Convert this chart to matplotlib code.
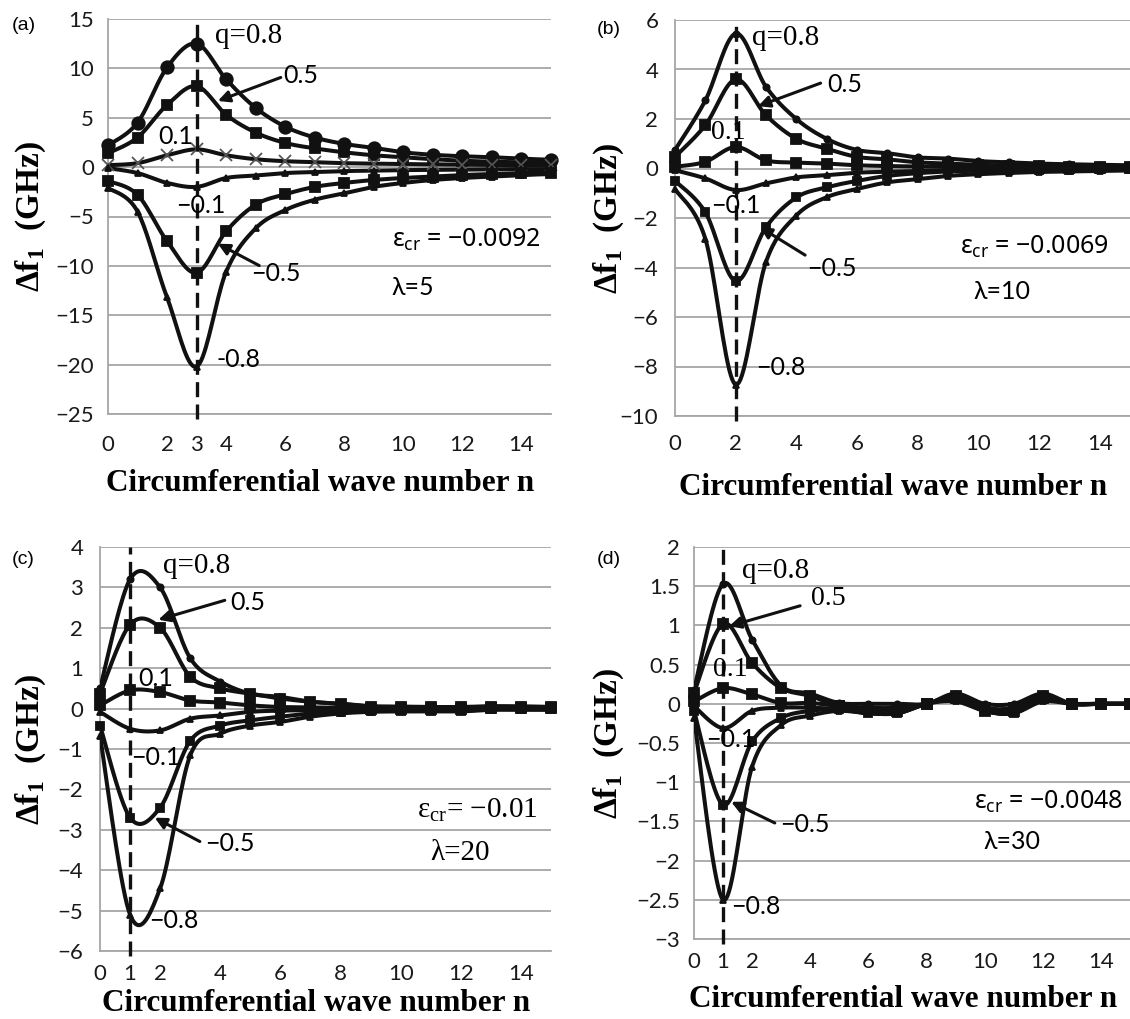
import numpy as np
import matplotlib
matplotlib.use("Agg")
import matplotlib.pyplot as plt
from matplotlib.ticker import FixedLocator, FuncFormatter

plt.rcParams['font.family'] = ['Lato', 'Noto Sans', 'DejaVu Sans']
plt.rcParams['mathtext.fontset'] = 'custom'
plt.rcParams['mathtext.rm'] = 'Liberation Serif'
plt.rcParams['mathtext.bf'] = 'Liberation Serif:bold'
plt.rcParams['mathtext.sf'] = 'Noto Sans'

# circumferential wave number
n = list(range(16))

# (a) lambda = 5
a_q08 = [2.2, 4.5, 10.1, 12.5, 8.9, 6.0, 4.1, 3.0, 2.35, 1.95, 1.5, 1.25, 1.1, 1.0, 0.85, 0.75]
a_q05 = [1.4, 3.0, 6.3, 8.2, 5.3, 3.5, 2.45, 1.9, 1.5, 1.2, 1.0, 0.8, 0.65, 0.55, 0.5, 0.4]
a_q01 = [0.2, 0.4, 1.2, 1.8, 1.2, 0.8, 0.6, 0.5, 0.4, 0.35, 0.3, 0.28, 0.25, 0.22, 0.2, 0.2]
a_qm01 = [-0.1, -0.6, -1.6, -2.0, -1.1, -0.85, -0.6, -0.5, -0.4, -0.35, -0.3, -0.28, -0.25, -0.22, -0.2, -0.2]
a_qm05 = [-1.4, -2.8, -7.5, -10.7, -6.5, -3.8, -2.75, -2.0, -1.6, -1.3, -1.1, -0.95, -0.8, -0.7, -0.6, -0.55]
a_qm08 = [-2.1, -4.5, -13.2, -20.2, -10.6, -6.2, -4.35, -3.3, -2.65, -2.0, -1.6, -1.3, -1.1, -0.95, -0.8, -0.7]

# (b) lambda = 10
b_q08 = [0.75, 2.75, 5.45, 3.3, 2.0, 1.2, 0.75, 0.62, 0.45, 0.4, 0.3, 0.25, 0.2, 0.17, 0.15, 0.13]
b_q05 = [0.47, 1.75, 3.6, 2.15, 1.2, 0.8, 0.47, 0.37, 0.25, 0.2, 0.15, 0.12, 0.1, 0.08, 0.07, 0.06]
b_q01 = [0.07, 0.27, 0.87, 0.33, 0.24, 0.2, 0.13, 0.1, 0.08, 0.06, 0.05, 0.04, 0.04, 0.03, 0.03, 0.03]
b_qm01 = [-0.07, -0.4, -0.87, -0.6, -0.36, -0.27, -0.17, -0.13, -0.1, -0.08, -0.06, -0.05, -0.04, -0.04, -0.03, -0.03]
b_qm05 = [-0.5, -1.77, -4.55, -2.37, -1.17, -0.76, -0.5, -0.3, -0.19, -0.12, -0.09, -0.07, -0.06, -0.05, -0.04, -0.04]
b_qm08 = [-0.83, -2.84, -8.73, -3.77, -1.9, -1.16, -0.83, -0.56, -0.43, -0.3, -0.23, -0.18, -0.14, -0.12, -0.1, -0.08]

# (c) lambda = 20
c_q08 = [0.5, 3.2, 3.0, 1.25, 0.67, 0.37, 0.29, 0.17, 0.12, 0.06, 0.05, 0.04, 0.04, 0.06, 0.05, 0.04]
c_q05 = [0.37, 2.08, 2.0, 0.79, 0.5, 0.37, 0.25, 0.17, 0.12, 0.05, 0.04, 0.04, 0.03, 0.05, 0.05, 0.04]
c_q01 = [0.08, 0.45, 0.41, 0.2, 0.15, 0.08, 0.04, 0.03, 0.02, 0.0, 0.0, 0.0, 0.0, 0.02, 0.02, 0.02]
c_qm01 = [-0.08, -0.5, -0.54, -0.25, -0.17, -0.08, -0.05, -0.04, -0.03, -0.02, -0.02, -0.02, -0.02, 0.0, 0.0, 0.0]
c_qm05 = [-0.42, -2.7, -2.45, -0.8, -0.42, -0.29, -0.2, -0.12, -0.08, -0.05, -0.05, -0.05, -0.05, -0.02, -0.02, -0.02]
c_qm08 = [-0.67, -5.1, -4.45, -1.16, -0.62, -0.42, -0.33, -0.2, -0.12, -0.08, -0.07, -0.07, -0.07, -0.03, -0.03, -0.03]

# (d) lambda = 30
d_q08 = [0.18, 1.53, 0.82, 0.23, 0.13, 0.01, 0.0, 0.0, 0.0, 0.13, 0.0, 0.0, 0.13, 0.0, 0.0, 0.0]
d_q05 = [0.14, 1.02, 0.52, 0.2, 0.1, -0.03, -0.05, -0.05, 0.0, 0.1, -0.05, -0.05, 0.1, 0.0, 0.0, 0.0]
d_q01 = [0.03, 0.2, 0.12, 0.01, 0.01, -0.03, -0.07, -0.09, 0.0, 0.08, -0.09, -0.09, 0.08, 0.0, 0.0, 0.0]
d_qm01 = [-0.03, -0.31, -0.09, -0.05, -0.05, -0.07, -0.12, -0.12, 0.0, 0.03, -0.09, -0.12, 0.03, 0.0, 0.0, 0.0]
d_qm05 = [-0.09, -1.29, -0.48, -0.18, -0.09, -0.07, -0.12, -0.12, 0.0, 0.06, -0.09, -0.12, 0.06, 0.0, 0.0, 0.0]
d_qm08 = [-0.18, -2.5, -0.8, -0.27, -0.15, -0.09, -0.12, -0.12, 0.0, 0.06, -0.09, -0.12, 0.06, 0.0, 0.0, 0.0]

W, H = 1130, 1019
fig = plt.figure(figsize=(W / 100, H / 100), dpi=100)

SERIF = 'Liberation Serif'
SANS = ['Lato', 'Noto Sans', 'DejaVu Sans']


def rect(l, r, t, b):
    return [l / W, 1 - b / H, (r - l) / W, (b - t) / H]


def smooth(x, y, k=20):
    # Excel-like smoothed line (Catmull-Rom as cubic Bezier)
    p = np.column_stack([x, y]).astype(float)
    p = np.vstack([p[0], p, p[-1]])
    out = []
    t = np.linspace(0, 1, k)[:, None]
    for i in range(1, len(p) - 2):
        p0, p1, p2, p3 = p[i - 1], p[i], p[i + 1], p[i + 2]
        c1 = p1 + (p2 - p0) / 6
        c2 = p2 - (p3 - p1) / 6
        seg = (1 - t) ** 3 * p1 + 3 * (1 - t) ** 2 * t * c1 + 3 * (1 - t) * t ** 2 * c2 + t ** 3 * p2
        out.append(seg if i == 1 else seg[1:])
    s = np.vstack(out)
    return s[:, 0], s[:, 1]


def fmt(v, pos):
    return f"{v:g}".replace('-', '\u2212')


def panel(box, series, markers, yticks, xticks, vline, xpad, ypad):
    ax = fig.add_axes(rect(*box))
    ax.set_xlim(0, 15)
    ax.set_ylim(yticks[0], yticks[-1])
    for ys, (m, ms, mc) in zip(series, markers):
        sx, sy = smooth(n, ys)
        ax.plot(sx, sy, color='#111111', lw=2.9, zorder=3, solid_capstyle='round')
        ax.plot(n, ys, ls='none', marker=m, ms=ms, color=mc, mec=mc, mew=1.3,
                zorder=4, clip_on=False)
    ax.yaxis.set_major_locator(FixedLocator(yticks))
    ax.xaxis.set_major_locator(FixedLocator(xticks))
    ax.yaxis.set_major_formatter(FuncFormatter(fmt))
    ax.xaxis.set_major_formatter(FuncFormatter(fmt))
    ax.grid(axis='y', color='#a6a6a6', lw=1.3, zorder=0)
    ax.set_axisbelow(True)
    for s in ('top', 'right'):
        ax.spines[s].set_visible(False)
    for s in ('left', 'bottom'):
        ax.spines[s].set_color('#a6a6a6')
        ax.spines[s].set_linewidth(1.3)
    ax.tick_params(axis='both', length=0, labelsize=16, colors='#1a1a1a')
    ax.tick_params(axis='x', pad=xpad)
    ax.tick_params(axis='y', pad=ypad)
    ax.axvline(vline, ymin=-0.012, ymax=1.0, color='#111111', lw=2.4,
               ls=(0, (4.5, 2.2)), zorder=5, clip_on=False)
    return ax


def arrow(ax, tail, head):
    ax.annotate('', xy=head, xytext=tail,
                arrowprops=dict(arrowstyle='-|>', color='#111111', lw=2.2,
                                mutation_scale=17, shrinkA=0, shrinkB=0), zorder=6)


def labels(ax, box, ylab_x, xlab_base):
    l, r, t, b = box
    fig.text(ylab_x / W, 1 - (t + b) / 2 / H, 'Δf$_\\mathbf{1}$  (GHz)', rotation=90,
             ha='center', va='center', family=SERIF, weight='bold', fontsize=24)
    fig.text((l + r) / 2 / W - 0.008, 1 - xlab_base / H, 'Circumferential wave number n',
             ha='center', va='baseline', family=SERIF, weight='bold', fontsize=22.5)


big = [('o', 9, '#111111'), ('s', 7.5, '#111111'), ('x', 8, '#555555'),
       ('^', 5, '#111111'), ('s', 6.5, '#111111'), ('^', 4, '#111111')]
small = [('o', 4.5, '#111111'), ('s', 6.5, '#111111'), ('s', 6.5, '#111111'),
         ('^', 4, '#111111'), ('s', 5.5, '#111111'), ('^', 4, '#111111')]

NUM = 18     # numeric annotation size
QS = 21      # q=0.8 label size

# ---- (a)
box_a = (108, 551, 19, 414)
ax = panel(box_a, [a_q08, a_q05, a_q01, a_qm01, a_qm05, a_qm08], big,
           [-25, -20, -15, -10, -5, 0, 5, 10, 15], [0, 2, 3, 4, 6, 8, 10, 12, 14], 3, 15, 10)
ax.text(3.62, 13.3, 'q=0.8', family=SERIF, fontsize=QS, va='center')
ax.text(5.95, 9.25, '0.5', family=SANS, fontsize=NUM, va='center')
arrow(ax, (5.85, 9.08), (3.72, 6.7))
ax.text(1.7, 3.13, '0.1', family=SANS, fontsize=NUM, va='center', zorder=7)
ax.text(2.3, -3.84, '\u22120.1', family=SANS, fontsize=NUM, va='center', zorder=7)
ax.text(4.85, -10.8, '\u22120.5', family=SANS, fontsize=NUM, va='center')
arrow(ax, (5.12, -9.97), (3.72, -7.76))
ax.text(3.66, -19.5, '-0.8', family=SANS, fontsize=NUM, va='center')
ax.text(9.6, -7.4, 'ε$_\\mathsf{cr}$ = \u22120.0092', family='Noto Sans', fontsize=18, va='center')
ax.text(9.6, -12.2, 'λ=5', family=SANS, fontsize=18, va='center')
fig.text(12 / W, 1 - 25 / H, '(a)', family='Liberation Sans', fontsize=14, va='center')
labels(ax, box_a, 31, 491)

# ---- (b)
box_b = (675, 1130, 20, 416)
ax = panel(box_b, [b_q08, b_q05, b_q01, b_qm01, b_qm05, b_qm08], small,
           [-10, -8, -6, -4, -2, 0, 2, 4, 6], [0, 2, 4, 6, 8, 10, 12, 14], 2, 13, 12)
ax.text(2.55, 5.26, 'q=0.8', family=SERIF, fontsize=QS, va='center')
ax.text(5.03, 3.39, '0.5', family=SANS, fontsize=NUM, va='center')
arrow(ax, (4.8, 3.45), (2.74, 2.52))
ax.text(1.2, 1.45, '0.1', family=SERIF, fontsize=20, va='center', zorder=7)
ax.text(1.2, -1.5, '\u22120.1', family=SANS, fontsize=NUM, va='center', zorder=7)
ax.text(4.34, -4.04, '\u22120.5', family=SANS, fontsize=NUM, va='center')
arrow(ax, (4.29, -3.5), (2.8, -2.37))
ax.text(2.69, -8.06, '\u22120.8', family=SANS, fontsize=NUM, va='center')
ax.text(9.4, -3.17, 'ε$_\\mathsf{cr}$ = \u22120.0069', family='Noto Sans', fontsize=18, va='center')
ax.text(9.85, -4.98, 'λ=10', family=SANS, fontsize=18, va='center')
fig.text(597 / W, 1 - 29 / H, '(b)', family='Liberation Sans', fontsize=14, va='center')
labels(ax, box_b, 609, 495)

# ---- (c)
box_c = (100, 551, 547, 951)
ax = panel(box_c, [c_q08, c_q05, c_q01, c_qm01, c_qm05, c_qm08], small,
           [-6, -5, -4, -3, -2, -1, 0, 1, 2, 3, 4], [0, 1, 2, 4, 6, 8, 10, 12, 14], 1, 9, 12)
ax.text(2.1, 3.54, 'q=0.8', family=SERIF, fontsize=QS, va='center')
ax.text(4.33, 2.62, '0.5', family=SANS, fontsize=NUM, va='center')
arrow(ax, (4.15, 2.68), (1.94, 2.2))
ax.text(1.28, 0.75, '0.1', family=SANS, fontsize=NUM, va='center', zorder=7)
ax.text(1.04, -1.2, '\u22120.1', family=SANS, fontsize=NUM, va='center', zorder=7)
ax.text(3.5, -3.33, '\u22120.5', family=SANS, fontsize=NUM, va='center')
arrow(ax, (3.32, -3.29), (1.82, -2.7))
ax.text(1.64, -5.24, '\u22120.8', family=SANS, fontsize=NUM, va='center')
ax.text(10.55, -2.5, 'ε$_\\mathrm{cr}$= \u22120.01', family=SERIF, fontsize=21, va='center')
ax.text(11.0, -3.58, 'λ=20', family=SERIF, fontsize=21, va='center')
fig.text(12 / W, 1 - 560 / H, '(c)', family='Liberation Sans', fontsize=14, va='center')
labels(ax, box_c, 31, 1011)

# ---- (d)
box_d = (694, 1130, 547, 939)
ax = panel(box_d, [d_q08, d_q05, d_q01, d_qm01, d_qm05, d_qm08], small,
           [-3, -2.5, -2, -1.5, -1, -0.5, 0, 0.5, 1, 1.5, 2], [0, 1, 2, 4, 6, 8, 10, 12, 14], 1, 9, 10)
ax.text(1.65, 1.7, 'q=0.8', family=SERIF, fontsize=QS, va='center')
ax.text(4.02, 1.34, '0.5', family=SERIF, fontsize=20, va='center')
arrow(ax, (3.65, 1.25), (1.21, 0.99))
ax.text(0.65, 0.44, '0.1', family=SERIF, fontsize=20, va='center', zorder=7)
ax.text(0.4, -0.46, '\u22120.1', family=SANS, fontsize=NUM, va='center', zorder=7)
ax.text(2.96, -1.54, '\u22120.5', family=SANS, fontsize=NUM, va='center')
arrow(ax, (2.78, -1.52), (1.28, -1.25))
ax.text(1.28, -2.59, '\u22120.8', family=SANS, fontsize=NUM, va='center')
ax.text(9.65, -1.25, 'ε$_\\mathsf{cr}$ = \u22120.0048', family='Noto Sans', fontsize=18, va='center')
ax.text(9.96, -1.76, 'λ=30', family=SANS, fontsize=18, va='center')
fig.text(597 / W, 1 - 559 / H, '(d)', family='Liberation Sans', fontsize=14, va='center')
labels(ax, box_d, 609, 1007)

fig.savefig('out.png', dpi=100)
